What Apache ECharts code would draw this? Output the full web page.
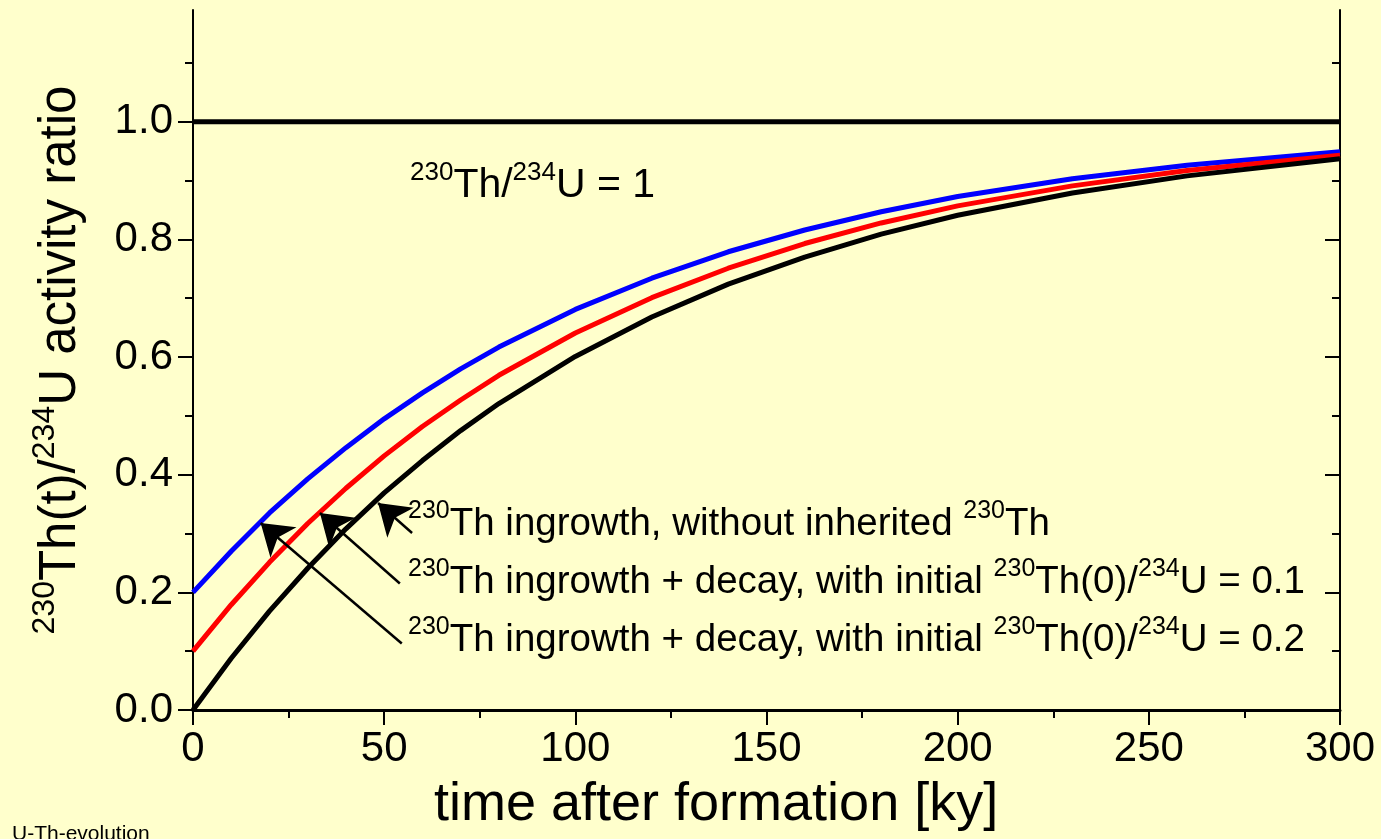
<!DOCTYPE html>
<html>
<head>
<meta charset="utf-8">
<script src="https://cdn.jsdelivr.net/npm/echarts@6/dist/echarts.min.js"></script>
<style>
html,body{margin:0;padding:0;background:#FFFFCC;}
#chart{width:1381px;height:839px;}
</style>
</head>
<body>
<div id="chart"></div>
<script>
// ---- data ----
const years      = [0, 10, 20, 30, 40, 50, 60, 70, 80, 100, 120, 140, 160, 180, 200, 230, 260, 300];
const ingrowth   = [0.000, 0.088, 0.168, 0.241, 0.308, 0.369, 0.424, 0.475, 0.521, 0.601, 0.668, 0.724, 0.770, 0.809, 0.841, 0.879, 0.908, 0.937];
const initial01  = [0.100, 0.179, 0.251, 0.317, 0.377, 0.432, 0.482, 0.527, 0.569, 0.641, 0.701, 0.751, 0.793, 0.828, 0.857, 0.891, 0.917, 0.943];
const initial02  = [0.200, 0.270, 0.335, 0.393, 0.446, 0.495, 0.539, 0.580, 0.617, 0.681, 0.734, 0.779, 0.816, 0.847, 0.873, 0.903, 0.926, 0.949];
const equilX     = [0, 300];
const equilY     = [1.0, 1.0];
const yMajorTicks = [0, 0.2, 0.4, 0.6, 0.8, 1.0];
const yMinorTicks = [0.1, 0.3, 0.5, 0.7, 0.9, 1.1];
// arrows: tail -> tip, in data units [ky, ratio]
const arrowTails = [[57.3, 0.301], [54.1, 0.215], [54.6, 0.113]];
const arrowTips  = [[48.4, 0.352], [33.2, 0.335], [17.7, 0.318]];
// texts
const yTitle = '{sup|230}{m|Th(t)/}{sup|234}{m|U activity ratio}';
const xTitle = 'time after formation [ky]';
const eqLabel = '{sup|230}{m|Th/}{sup|234}{m|U = 1}';
const curveLabels = [
  '{sup|230}{m|Th ingrowth, without inherited }{sup|230}{m|Th}',
  '{sup|230}{m|Th ingrowth + decay, with initial }{sup|230}{m|Th(0)/}{sup|234}{m|U = 0.1}',
  '{sup|230}{m|Th ingrowth + decay, with initial }{sup|230}{m|Th(0)/}{sup|234}{m|U = 0.2}'
];
const footer = 'U-Th-evolution';

// ---- chart ----
const FONT = 'Liberation Sans, Arial, sans-serif';
const pair = (xs, ys) => xs.map((x, i) => [x, ys[i]]);
const chart = echarts.init(document.getElementById('chart'), null, {renderer: 'canvas'});

const richEq = {
  sup: {fontSize: 26, fontFamily: FONT, color: '#000', verticalAlign: 'top', lineHeight: 26},
  m:   {fontSize: 41, fontFamily: FONT, color: '#000', lineHeight: 52}
};
const richSmall = {
  sup: {fontSize: 25, fontFamily: FONT, color: '#000', verticalAlign: 'top', lineHeight: 25},
  m:   {fontSize: 38.5, fontFamily: FONT, color: '#000', lineHeight: 50}
};
const richTitle = {
  sup: {fontSize: 32, fontFamily: FONT, color: '#000', verticalAlign: 'top', lineHeight: 32},
  m:   {fontSize: 51, fontFamily: FONT, color: '#000', lineHeight: 64}
};
const blackLine = {color: '#000', width: 2};

const option = {
  backgroundColor: '#FFFFCC',
  animation: false,
  grid: {left: 193, right: 41, top: 10, bottom: 129, containLabel: false},
  xAxis: [
    {
      type: 'value', min: 0, max: 300, interval: 50, position: 'bottom',
      axisLine: {show: true, lineStyle: blackLine},
      axisTick: {show: true, length: 15, lineStyle: blackLine},
      minorTick: {show: true, splitNumber: 2, length: 8, lineStyle: blackLine},
      axisLabel: {fontSize: 42, fontFamily: FONT, color: '#000', margin: 18},
      splitLine: {show: false}, minorSplitLine: {show: false}
    },
    {
      type: 'value', min: 0, max: 300, interval: 50, position: 'top',
      axisLine: {show: true, lineStyle: {color: '#000', width: 3}},
      axisTick: {show: true, inside: true, length: 15, lineStyle: blackLine},
      minorTick: {show: true, splitNumber: 2, length: 8, lineStyle: blackLine},
      axisLabel: {show: false},
      splitLine: {show: false}
    }
  ],
  yAxis: [
    {
      type: 'value', min: 0, max: 1.19, position: 'left',
      axisLine: {show: true, lineStyle: blackLine},
      axisTick: {show: true, length: 15, lineStyle: blackLine, customValues: yMajorTicks},
      axisLabel: {fontSize: 42, fontFamily: FONT, color: '#000', margin: 20,
                  customValues: yMajorTicks, formatter: v => v.toFixed(1)},
      splitLine: {show: false},
      name: yTitle, nameLocation: 'middle', nameRotate: 90, nameGap: 100,
      nameTextStyle: {rich: richTitle}
    },
    {
      type: 'value', min: 0, max: 1.19, position: 'left',
      axisLine: {show: false},
      axisTick: {show: true, length: 8, lineStyle: blackLine, customValues: yMinorTicks},
      axisLabel: {show: false}, splitLine: {show: false}
    },
    {
      type: 'value', min: 0, max: 1.19, position: 'right',
      axisLine: {show: true, lineStyle: blackLine},
      axisTick: {show: true, inside: true, length: 15, lineStyle: blackLine, customValues: yMajorTicks},
      axisLabel: {show: false}, splitLine: {show: false}
    },
    {
      type: 'value', min: 0, max: 1.19, position: 'right',
      axisLine: {show: false},
      axisTick: {show: true, inside: true, length: 8, lineStyle: blackLine, customValues: yMinorTicks},
      axisLabel: {show: false}, splitLine: {show: false}
    }
  ],
  series: [
    {type: 'line', name: 'equilibrium', data: pair(equilX, equilY), showSymbol: false, symbol: 'none',
     lineStyle: {color: '#000', width: 5}, z: 3},
    {type: 'line', name: 'initial 0.2', data: pair(years, initial02), showSymbol: false, symbol: 'none',
     lineStyle: {color: '#0000FF', width: 5}, z: 3},
    {type: 'line', name: 'initial 0.1', data: pair(years, initial01), showSymbol: false, symbol: 'none',
     lineStyle: {color: '#FF0000', width: 5}, z: 3},
    {type: 'line', name: 'ingrowth', data: pair(years, ingrowth), showSymbol: false, symbol: 'none',
     lineStyle: {color: '#000', width: 5}, z: 3},
    {type: 'lines', coordinateSystem: 'cartesian2d', silent: true, z: 4,
     symbol: ['none', 'arrow'], symbolSize: [17, 30],
     lineStyle: {color: '#000', width: 2.5, opacity: 1},
     data: arrowTails.map((t, i) => ({coords: [t, arrowTips[i]]}))}
  ],
  graphic: [
    {type: 'text', left: 410, top: 160, z: 10,
     style: {text: eqLabel, rich: richEq, fill: '#000'}},
    {type: 'text', left: 408, top: 499, z: 10,
     style: {text: curveLabels[0], rich: richSmall, fill: '#000'}},
    {type: 'text', left: 408, top: 557, z: 10,
     style: {text: curveLabels[1], rich: richSmall, fill: '#000'}},
    {type: 'text', left: 408, top: 615, z: 10,
     style: {text: curveLabels[2], rich: richSmall, fill: '#000'}},
    {type: 'text', left: 434, top: 778, z: 10,
     style: {text: xTitle, font: '54px ' + FONT, fill: '#000'}},
    {type: 'text', left: 12, top: 824, z: 10,
     style: {text: footer, font: '21px ' + FONT, fill: '#000'}}
  ]
};
chart.setOption(option);
</script>
</body>
</html>
